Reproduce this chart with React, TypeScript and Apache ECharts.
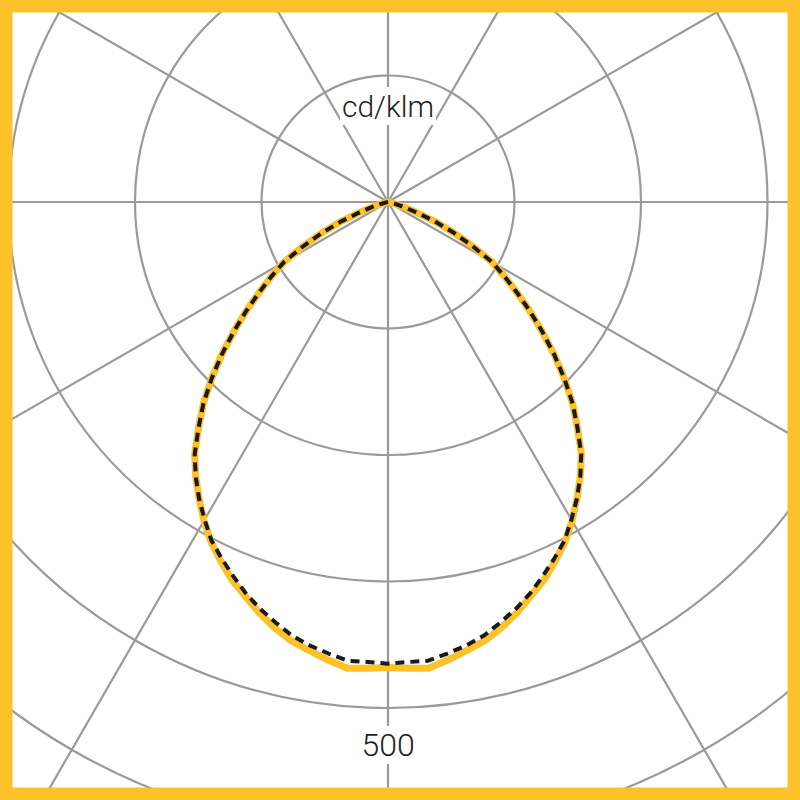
import { useEffect, useRef } from 'react'
import * as echarts from 'echarts'

// gamma angle from nadir, degrees (one half of the symmetric curve)
const GAMMA = [
  0, 2.5, 5, 7.5, 10, 12.5, 15, 17.5, 20, 22.5, 25, 27.5, 30, 32.5, 35, 37.5,
  40, 42.5, 45, 47.5, 50, 52.5, 55, 57.5, 60, 62.5, 65, 67.5, 70, 72.5, 75, 77.5, 80
]
// luminous intensity, cd/klm
const C0_C180 = [
  368, 369, 370, 365, 360, 355, 348, 340, 331, 323, 313, 303, 291, 278, 265, 251,
  233, 216, 197, 178, 159, 141, 124, 109, 95, 75, 57, 40, 24, 13, 6, 2, 0
]
const C90_C270 = [
  365, 364, 364, 360, 356, 351, 344, 337, 329, 320, 311, 302, 290, 278, 265, 251,
  233, 216, 197, 178, 159, 141, 124, 109, 95, 75, 57, 40, 24, 13, 6, 2, 0
]

const RING_STEP = 100
const RING_MAX = 700
const UNIT_LABEL = 'cd/klm'
const SCALE_LABEL = '500'

const YELLOW = '#FDC22A'
const GRID = '#9a9a9a'
const FONT = 'Roboto, "Liberation Sans", sans-serif'

// both halves of a plane: left side is negative gamma
function mirror(values: number[]): [number, number][] {
  const pts: [number, number][] = []
  for (let i = GAMMA.length - 1; i >= 0; i--) pts.push([values[i], -GAMMA[i]])
  for (let i = 1; i < GAMMA.length; i++) pts.push([values[i], GAMMA[i]])
  return pts
}

export default function App() {
  const chartRef = useRef<HTMLDivElement>(null)

  useEffect(() => {
    if (!chartRef.current) return
    const chart = echarts.init(chartRef.current, undefined, { renderer: 'svg' })

    const option: echarts.EChartsOption = {
      animation: false,
      backgroundColor: '#fff',
      polar: {
        center: [388, 202],
        radius: 126.5 * (RING_MAX / RING_STEP)
      },
      angleAxis: {
        type: 'value',
        min: -180,
        max: 180,
        interval: 30,
        startAngle: 90,
        clockwise: false,
        axisLine: { show: false },
        axisTick: { show: false },
        axisLabel: { show: false },
        splitLine: { show: true, lineStyle: { color: GRID, width: 2.2 } }
      },
      radiusAxis: {
        type: 'value',
        min: 0,
        max: RING_MAX,
        interval: RING_STEP,
        axisLine: { show: false },
        axisTick: { show: false },
        axisLabel: { show: false },
        splitLine: { show: true, lineStyle: { color: GRID, width: 2.2 } }
      },
      series: [
        {
          name: 'C0-C180',
          type: 'line',
          coordinateSystem: 'polar',
          showSymbol: false,
          data: mirror(C0_C180),
          lineStyle: { color: YELLOW, width: 7, join: 'round', cap: 'round' },
          z: 3
        },
        {
          name: 'C90-C270',
          type: 'line',
          coordinateSystem: 'polar',
          showSymbol: false,
          data: mirror(C90_C270),
          lineStyle: { color: '#1a1a1a', width: 4, type: [9, 6] },
          z: 4
        }
      ],
      graphic: [
        {
          type: 'text',
          x: 388,
          y: 106,
          z: 10,
          style: {
            text: UNIT_LABEL,
            fontSize: 30,
            fontFamily: FONT,
            fontWeight: 300,
            fill: '#222',
            align: 'center',
            verticalAlign: 'middle',
            backgroundColor: '#fff',
            padding: [4, 2]
          }
        },
        {
          type: 'text',
          x: 388,
          y: 745,
          z: 10,
          style: {
            text: SCALE_LABEL,
            fontSize: 32,
            fontFamily: FONT,
            fontWeight: 300,
            fill: '#222',
            align: 'center',
            verticalAlign: 'middle',
            backgroundColor: '#fff',
            padding: [3, 2]
          }
        },
        {
          type: 'rect',
          z: 20,
          shape: { x: 6, y: 6, width: 788, height: 788 },
          style: { fill: 'none', stroke: YELLOW, lineWidth: 13 }
        }
      ]
    }

    chart.setOption(option)
    return () => chart.dispose()
  }, [])

  return (
    <div
      ref={chartRef}
      style={{ position: 'fixed', left: 0, top: 0, width: 800, height: 800, overflow: 'hidden' }}
    />
  )
}
